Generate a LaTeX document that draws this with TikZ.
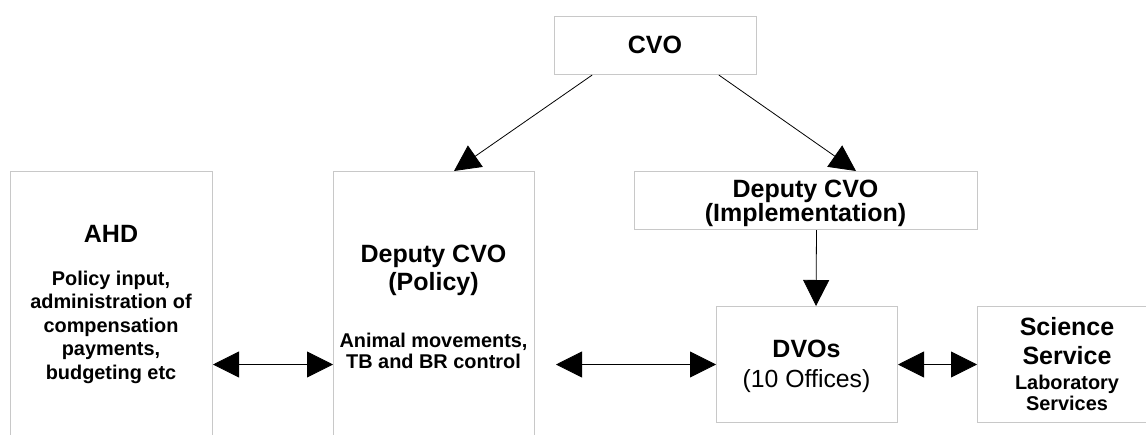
\documentclass[tikz,border=0pt]{standalone}
\usepackage{fontspec}
\setmainfont{Liberation Sans}
\usetikzlibrary{arrows.meta,calc}
\tikzset{
  box/.style={draw=boxgray, line width=1pt, rectangle, inner sep=0pt, anchor=north west},
  big/.style={font=\fontsize{25}{28}\selectfont\bfseries, anchor=base, inner sep=0pt},
  small/.style={font=\fontsize{19.9}{23}\selectfont\bfseries, anchor=base, inner sep=0pt},
  plain/.style={font=\fontsize{24.8}{28}\selectfont, anchor=base, inner sep=0pt},
  conn/.style={line width=0.8pt, -{Triangle[length=26pt,width=26pt]}},
  biconn/.style={line width=0.8pt, {Triangle[length=26pt,width=26pt]}-{Triangle[length=26pt,width=26pt]}}
}
\definecolor{boxgray}{HTML}{C8C8C8}
\begin{document}
\begin{tikzpicture}[x=1pt,y=-1pt]
\useasboundingbox (0,0) rectangle (1146,434);
\clip (0,0) rectangle (1146,434);
% boxes
\node[box, minimum width=202pt, minimum height=58pt] (cvo) at (554,16) {};
\node[box, minimum width=202pt, minimum height=280pt] (ahd) at (10,171) {};
\node[box, minimum width=201pt, minimum height=280pt] (policy) at (333,171) {};
\node[box, minimum width=343pt, minimum height=58pt] (impl) at (634,171) {};
\node[box, minimum width=181pt, minimum height=116pt] (dvo) at (716,306) {};
\node[box, minimum width=180pt, minimum height=116pt] (sci) at (977,306) {};
% texts
\node[big] (tcvo) at (655,53.8) {CVO};
\node[big] (tahd) at (111,242.5) {AHD};
\node[small] (tahd1) at (111,285.4) {Policy input,};
\node[small] (tahd2) at (111,308.9) {administration of};
\node[small] (tahd3) at (111,332.4) {compensation};
\node[small] (tahd4) at (111,355.9) {payments,};
\node[small] (tahd5) at (111,379.4) {budgeting etc};
\node[big] (tpol1) at (433.5,262) {Deputy CVO};
\node[big] (tpol2) at (433.5,290) {(Policy)};
\node[small] (tpol3) at (433.5,347) {Animal movements,};
\node[small] (tpol4) at (433.5,368.5) {TB and BR control};
\node[big] (timp1) at (805.5,197) {Deputy CVO};
\node[big] (timp2) at (805.5,221.7) {(Implementation)};
\node[big] (tdvo1) at (806.5,357) {DVOs};
\node[plain] (tdvo2) at (806.5,387) {(10 Offices)};
\node[big] (tsci1) at (1067,335) {Science};
\node[big] (tsci2) at (1067,364) {Service};
\node[small] (tsci3) at (1067,389) {Laboratory};
\node[small] (tsci4) at (1067,410) {Services};
% connectors
\coordinate (polin) at ($(policy.north west)+(121,0)$);
\coordinate (impin) at ($(impl.north west)+(222,0)$);
\coordinate (impout) at ($(impl.south)+(10.5,0)$);
\coordinate (dvoin) at ($(dvo.north west)+(100,0)$);
\coordinate (polout) at ($(policy.east |- dvo.west)+(21,0)$);
\draw[conn] (cvo.205.4) -- (polin);
\draw[conn] (cvo.-25.8) -- (impin);
\draw[conn] (impout) -- (dvoin);
\draw[biconn] (ahd.east |- dvo.west) -- (policy.west |- dvo.west);
\draw[biconn] (polout) -- (dvo.west);
\draw[biconn] (dvo.east) -- (sci.west);
\end{tikzpicture}
\end{document}
